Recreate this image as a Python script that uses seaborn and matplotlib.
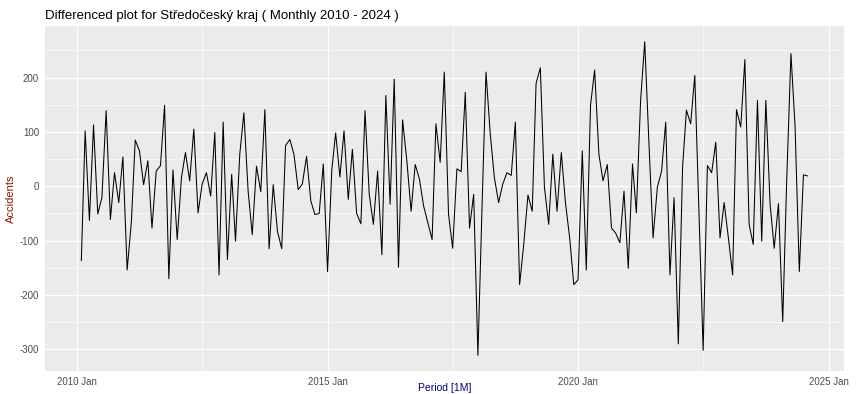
import numpy as np
import pandas as pd
import matplotlib
matplotlib.use('Agg')
import matplotlib.pyplot as plt
import matplotlib.dates as mdates
import seaborn as sns

# differenced monthly accident counts, Feb 2010 .. Aug 2024
diff_values = [
    -137, 102, -63, 113, -51, -21, 139, -61, 25, -30, 54,            # 2010 Feb-Dec
    -154, -65, 85, 65, 3, 47, -77, 28, 38, 149, -170, 30,            # 2011
    -98, 16, 62, 10, 105, -49, 4, 25, -18, 99, -163, 118,            # 2012
    -135, 22, -101, 59, 135, -9, -89, 37, -10, 141, -115, 3,         # 2013
    -83, -115, 75, 86, 59, -6, 4, 55, -27, -52, -50, 41,             # 2014
    -157, 30, 98, 17, 102, -24, 68, -50, -69, 139, -15, -70,         # 2015
    28, -126, 167, -33, 197, -149, 122, 47, -46, 40, 13, -36,        # 2016
    -67, -98, 115, 44, 210, -52, -114, 32, 27, 173, -77, -15,        # 2017
    -311, -30, 210, 96, 16, -30, 4, 25, 20, 118, -181, -107,         # 2018
    -16, -46, 189, 218, -2, -70, 59, -46, 62, -30, -95, -181,        # 2019
    -172, 65, -154, 149, 214, 59, 10, 40, -77, -86, -104, -9,        # 2020
    -151, 41, -49, 158, 266, 78, -95, -2, 28, 118, -163, -21,        # 2021
    -290, 35, 140, 115, 204, -50, -302, 38, 25, 81, -95, -30,        # 2022
    -95, -163, 141, 109, 233, -70, -107, 158, -101, 158, -33, -114,  # 2023
    -32, -249, 10, 244, 110, -157, 21, 19,                           # 2024 Jan-Aug
]
periods = pd.date_range('2010-02-01', periods=len(diff_values), freq='MS')

year_ticks = pd.to_datetime(['2010-01-01', '2015-01-01', '2020-01-01', '2025-01-01'])
year_labels = ['2010 Jan', '2015 Jan', '2020 Jan', '2025 Jan']
y_major = [-300, -200, -100, 0, 100, 200]
y_minor = [-250, -150, -50, 50, 150, 250]

df = pd.DataFrame({'Period': periods, 'Accidents': diff_values})

sns.set_theme(style='darkgrid')
plt.rcParams['font.family'] = ['Liberation Sans', 'DejaVu Sans']
plt.rcParams['axes.unicode_minus'] = False

fig = plt.figure(figsize=(8.6, 3.94), dpi=100)
ax = fig.add_axes([45 / 860, 1 - 371 / 394, (844 - 45) / 860, (371 - 26) / 394])
ax.set_facecolor('#EBEBEB')

sns.lineplot(data=df, x='Period', y='Accidents', color='black', linewidth=0.75, ax=ax)

# ggplot-style 5% expansion
xn = mdates.date2num(df['Period'])
xr = xn.max() - xn.min()
ax.set_xlim(xn.min() - 0.05 * xr, xn.max() + 0.05 * xr)
yv = np.array(diff_values)
yr = yv.max() - yv.min()
ax.set_ylim(yv.min() - 0.05 * yr, yv.max() + 0.05 * yr)

ax.set_xticks(mdates.date2num(year_ticks))
ax.set_xticklabels(year_labels)
xt = mdates.date2num(year_ticks)
ax.set_xticks((xt[:-1] + xt[1:]) / 2, minor=True)
ax.set_yticks(y_major)
ax.set_yticklabels([str(v) for v in y_major])
ax.set_yticks(y_minor, minor=True)

ax.grid(which='major', color='white', linewidth=0.8)
ax.grid(which='minor', color='white', linewidth=0.4)
for s in ax.spines.values():
    s.set_visible(False)
ax.tick_params(which='major', length=2.2, width=0.6, color='#333333',
               labelsize=7, labelcolor='#4D4D4D', pad=2)
ax.tick_params(which='minor', length=0)

ax.set_title('Differenced plot for Středočeský kraj ( Monthly 2010 - 2024 )',
             loc='left', fontsize=9.5, color='black', pad=5)
ax.set_xlabel('Period [1M]', color='#000080', fontsize=7.5)
ax.xaxis.set_label_coords(0.5, -0.036)
ax.set_ylabel('Accidents', color='#8B1A00', fontsize=8, labelpad=3)

fig.savefig('out.png', dpi=100, facecolor='white')
